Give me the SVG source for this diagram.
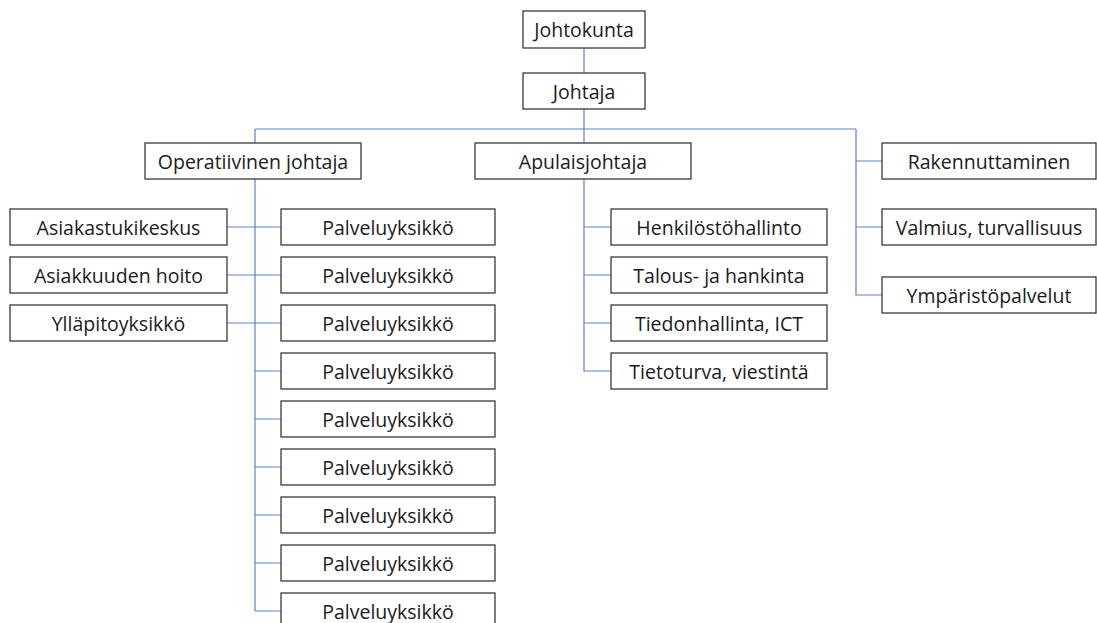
<svg xmlns="http://www.w3.org/2000/svg" width="1097" height="623" viewBox="0 0 1097 623">
<style>
.box{fill:#fff;stroke:#3a3a3a;stroke-width:1.3}
.t{font-family:"Open Sans","Noto Sans",sans-serif;font-size:19.5px;fill:#1a1a1a;text-anchor:middle;dominant-baseline:central}
.c{stroke:#5b84c8;stroke-width:1.2;fill:none}
</style>
<rect width="1097" height="623" fill="#fff"/>
<g id="connectors">
<path class="c" d="M584 48V73M584 109V143M255 129H856M255 129V143M255 179V611M227 227H281M227 275H281M227 323H281M255 371H281M255 419H281M255 467H281M255 515H281M255 563H281M255 611H281M584 179V371H611M584 227H611M584 275H611M584 323H611M856 129V295H882M856 161H882M856 227H882"/>
</g>
<g id="johtokunta"><rect class="box" x="523" y="11" width="122" height="37"/><text class="t" x="584" y="29.5">Johtokunta</text></g>
<g id="johtaja"><rect class="box" x="523" y="73" width="122" height="36"/><text class="t" x="584" y="91">Johtaja</text></g>
<g id="operatiivinen"><rect class="box" x="145" y="143" width="216" height="36"/><text class="t" x="253" y="161">Operatiivinen johtaja</text></g>
<g id="apulaisjohtaja"><rect class="box" x="475" y="143" width="216" height="36"/><text class="t" x="583" y="161">Apulaisjohtaja</text></g>
<g id="asiakastukikeskus"><rect class="box" x="10" y="209" width="217" height="36"/><text class="t" x="118.5" y="227">Asiakastukikeskus</text></g>
<g id="asiakkuuden"><rect class="box" x="10" y="257" width="217" height="36"/><text class="t" x="118.5" y="275">Asiakkuuden hoito</text></g>
<g id="yllapito"><rect class="box" x="10" y="305" width="217" height="36"/><text class="t" x="118.5" y="323">Ylläpitoyksikkö</text></g>
<g id="palvelu1"><rect class="box" x="281" y="209" width="214" height="36"/><text class="t" x="388" y="227">Palveluyksikkö</text></g>
<g id="palvelu2"><rect class="box" x="281" y="257" width="214" height="36"/><text class="t" x="388" y="275">Palveluyksikkö</text></g>
<g id="palvelu3"><rect class="box" x="281" y="305" width="214" height="36"/><text class="t" x="388" y="323">Palveluyksikkö</text></g>
<g id="palvelu4"><rect class="box" x="281" y="353" width="214" height="36"/><text class="t" x="388" y="371">Palveluyksikkö</text></g>
<g id="palvelu5"><rect class="box" x="281" y="401" width="214" height="36"/><text class="t" x="388" y="419">Palveluyksikkö</text></g>
<g id="palvelu6"><rect class="box" x="281" y="449" width="214" height="36"/><text class="t" x="388" y="467">Palveluyksikkö</text></g>
<g id="palvelu7"><rect class="box" x="281" y="497" width="214" height="36"/><text class="t" x="388" y="515">Palveluyksikkö</text></g>
<g id="palvelu8"><rect class="box" x="281" y="545" width="214" height="36"/><text class="t" x="388" y="563">Palveluyksikkö</text></g>
<g id="palvelu9"><rect class="box" x="281" y="593" width="214" height="36"/><text class="t" x="388" y="611">Palveluyksikkö</text></g>
<g id="henkilosto"><rect class="box" x="611" y="209" width="216" height="36"/><text class="t" x="719" y="227">Henkilöstöhallinto</text></g>
<g id="talous"><rect class="box" x="611" y="257" width="216" height="36"/><text class="t" x="719" y="275">Talous- ja hankinta</text></g>
<g id="tiedonhallinta"><rect class="box" x="611" y="305" width="216" height="36"/><text class="t" x="719" y="323">Tiedonhallinta, ICT</text></g>
<g id="tietoturva"><rect class="box" x="611" y="353" width="216" height="36"/><text class="t" x="719" y="371">Tietoturva, viestintä</text></g>
<g id="rakennuttaminen"><rect class="box" x="882" y="143" width="214" height="36"/><text class="t" x="989" y="161">Rakennuttaminen</text></g>
<g id="valmius"><rect class="box" x="882" y="209" width="214" height="36"/><text class="t" x="989" y="227">Valmius, turvallisuus</text></g>
<g id="ymparisto"><rect class="box" x="882" y="277" width="214" height="36"/><text class="t" x="989" y="295">Ympäristöpalvelut</text></g>
</svg>
